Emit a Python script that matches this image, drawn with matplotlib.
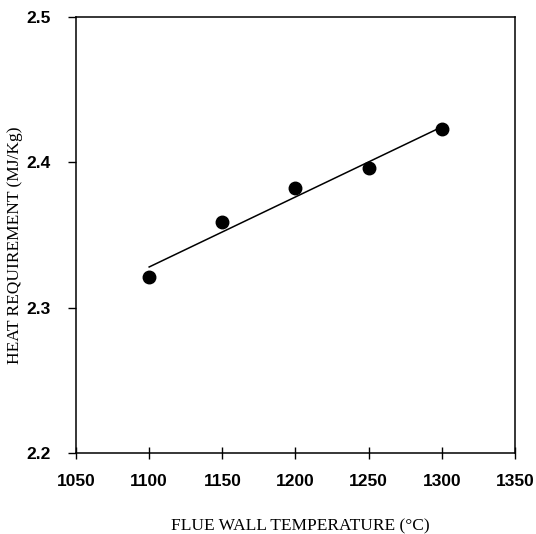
import matplotlib
matplotlib.use("Agg")
import matplotlib.pyplot as plt
import numpy as np

temperature = [1100, 1150, 1200, 1250, 1300]
heat_req = [2.321, 2.359, 2.382, 2.396, 2.423]
x_ticks = [1050, 1100, 1150, 1200, 1250, 1300, 1350]
y_ticks = [2.2, 2.3, 2.4, 2.5]

fig = plt.figure(figsize=(5.36, 5.34), dpi=100)
ax = fig.add_axes([76/536, 1-453/534, (515-76)/536, (453-17)/534])

coef = np.polyfit(temperature, heat_req, 1)
fit_x = np.array([temperature[0], temperature[-1]])
ax.plot(fit_x, np.polyval(coef, fit_x), color='black', lw=1.1)
ax.plot(temperature, heat_req, 'o', color='black', ms=9)

ax.set_xlim(1050, 1350)
ax.set_ylim(2.2, 2.5)
ax.set_xticks(x_ticks)
ax.set_yticks(y_ticks)
ax.set_xticklabels([str(t) for t in x_ticks], fontfamily='Liberation Sans', fontweight='bold', fontsize=12.5)
ax.set_yticklabels([f"{t:.1f}" for t in y_ticks], fontfamily='Liberation Sans', fontweight='bold', fontsize=12.5)
ax.tick_params(axis='x', direction='inout', length=8, width=1, pad=11)
ax.tick_params(axis='y', direction='out', length=6, width=1, pad=12)
for s in ax.spines.values():
    s.set_linewidth(1.1)

ax.set_xlabel("FLUE WALL TEMPERATURE (°C)", fontfamily='Liberation Serif', fontsize=12.5)
ax.set_ylabel("HEAT REQUIREMENT (MJ/Kg)", fontfamily='Liberation Serif', fontsize=12.5)
ax.xaxis.set_label_coords(0.511, -0.168)
ax.yaxis.set_label_coords(-0.139, 0.477)
ax.xaxis.label.set_verticalalignment('center')
ax.yaxis.label.set_verticalalignment('center')

fig.savefig("out.png", dpi=100)
